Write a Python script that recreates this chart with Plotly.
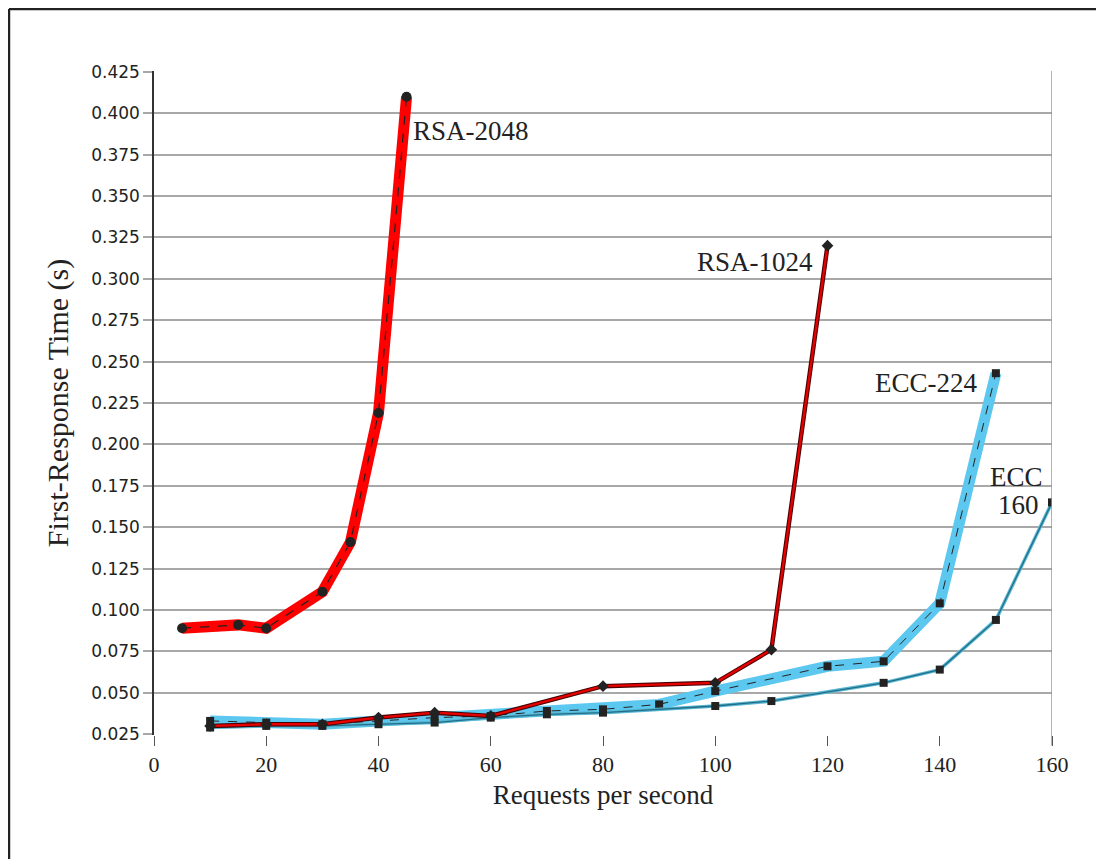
import plotly.graph_objects as go

# ---- data ----
rsa2048_x = [5, 15, 20, 30, 35, 40, 45]
rsa2048_y = [0.089, 0.091, 0.089, 0.111, 0.141, 0.219, 0.410]

rsa1024_x = [10, 20, 30, 40, 50, 60, 80, 100, 110, 120]
rsa1024_y = [0.030, 0.031, 0.031, 0.035, 0.038, 0.036, 0.054, 0.056, 0.076, 0.320]

ecc224_x = [10, 20, 30, 40, 50, 60, 70, 80, 90, 100, 120, 130, 140, 150]
ecc224_y = [0.033, 0.032, 0.031, 0.033, 0.035, 0.036, 0.039, 0.040, 0.043, 0.051, 0.066, 0.069, 0.104, 0.243]

ecc160_x = [10, 20, 30, 40, 50, 60, 70, 80, 100, 110, 130, 140, 150, 160]
ecc160_y = [0.029, 0.030, 0.030, 0.031, 0.032, 0.035, 0.037, 0.038, 0.042, 0.045, 0.056, 0.064, 0.094, 0.165]

x_ticks = [0, 20, 40, 60, 80, 100, 120, 140, 160]
y_ticks = [0.025 * i for i in range(1, 18)]
y_tick_labels = ["%.3f" % v for v in y_ticks]

labels = ["RSA-2048", "RSA-1024", "ECC-224", "ECC", "160"]

fig = go.Figure()

# ECC-224: thick light-blue band with dashed core
fig.add_trace(go.Scatter(x=ecc224_x, y=ecc224_y, mode="lines",
                         line=dict(color="#5cc8ef", width=11), hoverinfo="skip", showlegend=False))
fig.add_trace(go.Scatter(x=ecc224_x, y=ecc224_y, mode="lines+markers",
                         line=dict(color="#222222", width=1, dash="dash"),
                         marker=dict(symbol="square", size=8, color="#222222"),
                         name="ECC-224", showlegend=False))

# ECC-160: thin teal line
fig.add_trace(go.Scatter(x=ecc160_x, y=ecc160_y, mode="lines",
                         line=dict(color="#5ab6d3", width=3.5), hoverinfo="skip", showlegend=False))
fig.add_trace(go.Scatter(x=ecc160_x, y=ecc160_y, mode="lines+markers",
                         line=dict(color="#1f6f88", width=1.3),
                         marker=dict(symbol="square", size=8, color="#222222"),
                         name="ECC-160", showlegend=False))

# RSA-1024: red line with dark edge
fig.add_trace(go.Scatter(x=rsa1024_x, y=rsa1024_y, mode="lines",
                         line=dict(color="#4a0000", width=4.5), hoverinfo="skip", showlegend=False))
fig.add_trace(go.Scatter(x=rsa1024_x, y=rsa1024_y, mode="lines+markers",
                         line=dict(color="#e80000", width=2.3),
                         marker=dict(symbol="diamond", size=9, color="#222222"),
                         name="RSA-1024", showlegend=False))

# RSA-2048: thick red band with dashed core
fig.add_trace(go.Scatter(x=rsa2048_x, y=rsa2048_y, mode="lines",
                         line=dict(color="#ff0000", width=11), hoverinfo="skip", showlegend=False))
fig.add_trace(go.Scatter(x=rsa2048_x, y=rsa2048_y, mode="lines+markers",
                         line=dict(color="#222222", width=1.2, dash="dash"),
                         marker=dict(symbol="circle", size=10, color="#222222"),
                         name="RSA-2048", showlegend=False))

serif = "Liberation Serif, Times New Roman, serif"
ann_font = dict(family=serif, size=27, color="#222222")

annotations = [
    dict(x=45.8, y=0.389, text=labels[0], xanchor="left", yanchor="middle"),
    dict(x=117.8, y=0.310, text=labels[1], xanchor="right", yanchor="middle"),
    dict(x=147.2, y=0.237, text=labels[2], xanchor="right", yanchor="middle"),
    dict(x=158.8, y=0.1803, text=labels[3], xanchor="right", yanchor="middle"),
    dict(x=158.0, y=0.1634, text=labels[4], xanchor="right", yanchor="middle"),
]
for a in annotations:
    a.update(xref="x", yref="y", showarrow=False, font=ann_font)

fig.update_layout(
    width=1096, height=851,
    margin=dict(l=146, r=52, t=63, b=124),
    paper_bgcolor="white", plot_bgcolor="white",
    annotations=annotations,
    shapes=[
        # right boundary line at x=160
        dict(type="line", xref="x", yref="paper", x0=160, x1=160, y0=-0.016, y1=1.0,
             line=dict(color="#999999", width=1.5)),
        # outer frame (left and top)
        dict(type="line", xref="paper", yref="paper", x0=-0.1615, x1=-0.1615, y0=-0.2, y1=1.0934,
             line=dict(color="#222222", width=2.5)),
        dict(type="line", xref="paper", yref="paper", x0=-0.1615, x1=1.07, y0=1.0934, y1=1.0934,
             line=dict(color="#222222", width=2.5)),
    ],
)

fig.update_xaxes(
    range=[0, 160], tickvals=x_ticks, ticktext=[str(v) for v in x_ticks],
    showgrid=False, zeroline=False, showline=False,
    ticks="outside", ticklen=10, tickwidth=1.2, tickcolor="#555555",
    tickfont=dict(family=serif, size=22, color="#222222"),
    title=dict(text="Requests per second", font=dict(family=serif, size=27, color="#222222"), standoff=8),
)
fig.update_yaxes(
    range=[0.0245, 0.4255], tickvals=y_ticks, ticktext=y_tick_labels,
    showgrid=True, gridcolor="#a8a8a8", gridwidth=1.8, zeroline=False,
    showline=True, linecolor="#333333", linewidth=1.5,
    ticks="outside", ticklen=9, tickwidth=1.5, tickcolor="#a8a8a8",
    tickfont=dict(family="DejaVu Sans, sans-serif", size=17, color="#222222"),
    title=dict(text="First-Response Time (s)", font=dict(family=serif, size=30, color="#222222"), standoff=14),
)

fig.write_html("out.html")
